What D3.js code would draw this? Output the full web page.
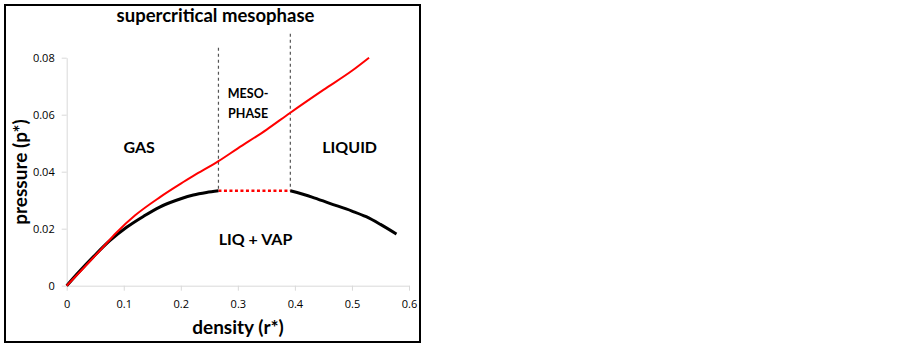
<!DOCTYPE html>
<html>
<head>
<meta charset="utf-8">
<script src="https://cdn.jsdelivr.net/npm/d3@7"></script>
<style>
  body { margin: 0; background: #fff; }
  svg { display: block; font-family: Lato, "Open Sans", sans-serif; }
</style>
</head>
<body>
<div id="chart"></div>
<script>
// data
const xTicks = [0, 0.1, 0.2, 0.3, 0.4, 0.5, 0.6];
const yTicks = [0, 0.02, 0.04, 0.06, 0.08];

// supercritical line (red)
const redDensity  = [0, 0.03, 0.06, 0.087, 0.12, 0.163, 0.2, 0.222, 0.266, 0.3, 0.35, 0.392, 0.45, 0.5, 0.53];
const redPressure = [0, 0.0063, 0.0127, 0.0186, 0.0247, 0.0310, 0.0358, 0.0385, 0.0437, 0.0482, 0.0547, 0.0607, 0.0687, 0.0754, 0.080];

// coexistence curve, gas branch (black)
const gasDensity  = [0, 0.02, 0.047, 0.075, 0.105, 0.135, 0.163, 0.2, 0.222, 0.245, 0.266];
const gasPressure = [0, 0.0045, 0.0102, 0.0157, 0.0205, 0.0244, 0.0276, 0.0305, 0.0318, 0.0327, 0.0333];

// coexistence curve, liquid branch (black)
const liqDensity  = [0.392, 0.43, 0.461, 0.5, 0.525, 0.55, 0.578];
const liqPressure = [0.0333, 0.0311, 0.0289, 0.0262, 0.0242, 0.0215, 0.0181];

// mesophase boundaries
const mesoDensity = [0.266, 0.392];
const mesoTop     = [0.0835, 0.0884];
const mesoBottom  = 0.0333;

const labels = [
  { text: 'GAS',       x: 0.127, y: 0.0465, size: 16 },
  { text: 'LIQUID',    x: 0.496, y: 0.0465, size: 16 },
  { text: 'MESO-',     x: 0.318, y: 0.0657, size: 12.5 },
  { text: 'PHASE',     x: 0.318, y: 0.059,  size: 12.5 },
  { text: 'LIQ + VAP', x: 0.331, y: 0.0143, size: 16 }
];

const width = 902, height = 347;
const svg = d3.select('#chart').append('svg')
  .attr('width', width)
  .attr('height', height);

// outer frame
svg.append('rect')
  .attr('x', 5).attr('y', 5)
  .attr('width', 415).attr('height', 337)
  .attr('fill', '#fff')
  .attr('stroke', '#000')
  .attr('stroke-width', 2);

const x = d3.scaleLinear().domain([0, 0.6]).range([66.7, 409]);
const y = d3.scaleLinear().domain([0, 0.08]).range([285.7, 57.7]);

// axes
const xAxis = svg.append('g')
  .attr('transform', `translate(0,${y(0)})`)
  .call(d3.axisBottom(x).tickValues(xTicks).tickSize(5).tickSizeOuter(0).tickPadding(10)
    .tickFormat(d => d === 0 ? '0' : d3.format('.1f')(d)));
const yAxis = svg.append('g')
  .attr('transform', `translate(${x(0)},0)`)
  .call(d3.axisLeft(y).tickValues(yTicks).tickSize(5).tickSizeOuter(0).tickPadding(7)
    .tickFormat(d => d === 0 ? '0' : d3.format('.2f')(d)));

[xAxis, yAxis].forEach(g => {
  g.select('.domain').attr('stroke', '#d9d9d9');
  g.selectAll('.tick line').attr('stroke', '#d9d9d9');
  g.selectAll('.tick text')
    .attr('fill', '#000')
    .style('font-family', '"Open Sans", sans-serif')
    .style('font-size', '11px');
});

const line = d3.line()
  .x(d => x(d[0]))
  .y(d => y(d[1]));

// dashed mesophase boundaries
svg.selectAll('.meso')
  .data(mesoDensity)
  .enter().append('line')
  .attr('x1', d => x(d)).attr('x2', d => x(d))
  .attr('y1', (d, i) => y(mesoTop[i]))
  .attr('y2', y(mesoBottom))
  .attr('stroke', '#555')
  .attr('stroke-width', 1.2)
  .attr('stroke-dasharray', '3,3');

// red dotted tie line
svg.append('path')
  .attr('d', line([[mesoDensity[0], mesoBottom], [mesoDensity[1], mesoBottom]]))
  .attr('fill', 'none')
  .attr('stroke', '#ff0000')
  .attr('stroke-width', 2.5)
  .attr('stroke-dasharray', '3,2.5');

// black coexistence branches
[[gasDensity, gasPressure], [liqDensity, liqPressure]].forEach(([dx, dy]) => {
  svg.append('path')
    .datum(dx.map((v, i) => [v, dy[i]]))
    .attr('d', line.curve(d3.curveMonotoneX))
    .attr('fill', 'none')
    .attr('stroke', '#000')
    .attr('stroke-width', 3);
});

// red supercritical line
svg.append('path')
  .datum(redDensity.map((v, i) => [v, redPressure[i]]))
  .attr('d', line.curve(d3.curveMonotoneX))
  .attr('fill', 'none')
  .attr('stroke', '#ff0000')
  .attr('stroke-width', 2);

// region labels
svg.selectAll('.lbl')
  .data(labels)
  .enter().append('text')
  .attr('x', d => x(d.x))
  .attr('y', d => y(d.y))
  .attr('text-anchor', 'middle')
  .style('font-weight', 'bold')
  .style('font-size', d => d.size + 'px')
  .text(d => d.text);

// titles
svg.append('text')
  .attr('x', 215.5).attr('y', 22)
  .attr('text-anchor', 'middle')
  .style('font-weight', 'bold')
  .style('font-size', '18.5px')
  .text('supercritical mesophase');

svg.append('text')
  .attr('x', 238).attr('y', 334)
  .attr('text-anchor', 'middle')
  .style('font-weight', 'bold')
  .style('font-size', '19px')
  .text('density (r*)');

svg.append('text')
  .attr('transform', 'translate(27,172) rotate(-90)')
  .attr('text-anchor', 'middle')
  .style('font-weight', 'bold')
  .style('font-size', '19px')
  .text('pressure (p*)');
</script>
</body>
</html>
